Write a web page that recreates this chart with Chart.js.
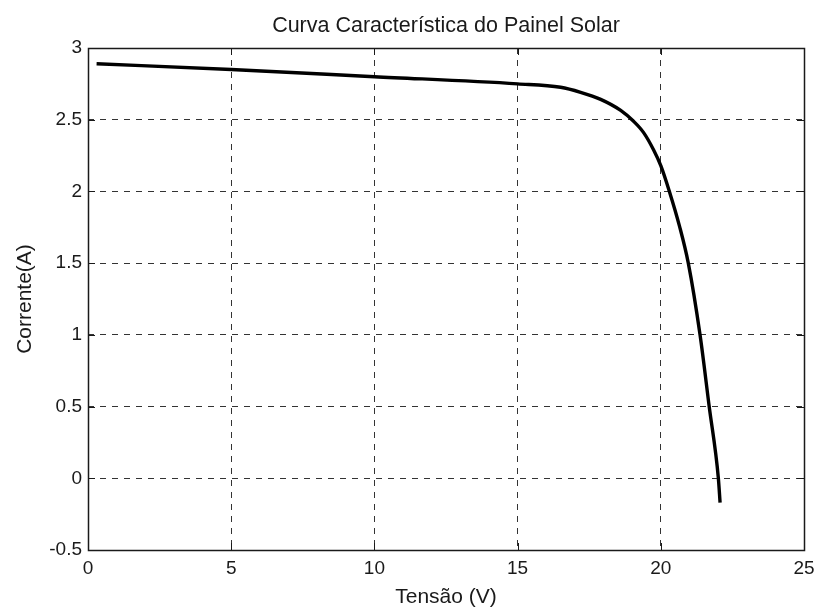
<!DOCTYPE html>
<html>
<head>
<meta charset="utf-8">
<script src="https://cdn.jsdelivr.net/npm/chart.js@4/dist/chart.umd.min.js"></script>
<style>
  html, body { margin: 0; padding: 0; background: #ffffff; }
  #wrap { width: 815px; height: 608px; }
</style>
</head>
<body>
<div id="wrap"><canvas id="c" width="815" height="608"></canvas></div>
<script>
// ---- data ----
const chartTitle = 'Curva Característica do Painel Solar';
const xAxisTitle = 'Tensão (V)';
const yAxisTitle = 'Corrente(A)';

const voltage = [0.3, 5, 10, 15, 16.5, 17.2, 17.9, 18.6, 19.05, 19.4, 19.75, 20.0, 20.3, 20.65, 20.96, 21.37, 21.69, 22.01, 22.07];
const current = [2.89, 2.85, 2.80, 2.75, 2.726, 2.691, 2.642, 2.565, 2.489, 2.41, 2.289, 2.18, 2.0, 1.76, 1.5, 1.0, 0.5, 0.0, -0.17];

const xTicks = [0, 5, 10, 15, 20, 25];
const yTicks = [-0.5, 0, 0.5, 1, 1.5, 2, 2.5, 3];

const points = voltage.map((v, i) => ({ x: v, y: current[i] }));

const FONT = '"Liberation Sans", Arial, Helvetica, sans-serif';

// title centred over the plot area, box around the plot area, inward ticks
const boxPlugin = {
  id: 'boxPlugin',
  afterDraw(chart) {
    const { ctx, chartArea: a, scales } = chart;
    ctx.save();
    ctx.fillStyle = '#1a1a1a';
    ctx.font = '21.5px ' + FONT;
    ctx.textAlign = 'center';
    ctx.textBaseline = 'alphabetic';
    ctx.fillText(chartTitle, (a.left + a.right) / 2, 32);

    ctx.strokeStyle = '#1a1a1a';
    ctx.lineWidth = 1;
    ctx.setLineDash([]);
    const tl = 7;
    ctx.beginPath();
    xTicks.forEach(v => {
      const px = Math.round(scales.x.getPixelForValue(v)) + 0.5;
      ctx.moveTo(px, a.bottom); ctx.lineTo(px, a.bottom - tl);
      ctx.moveTo(px, a.top); ctx.lineTo(px, a.top + tl);
    });
    yTicks.forEach(v => {
      const py = Math.round(scales.y.getPixelForValue(v)) + 0.5;
      ctx.moveTo(a.left, py); ctx.lineTo(a.left + tl, py);
      ctx.moveTo(a.right, py); ctx.lineTo(a.right - tl, py);
    });
    ctx.stroke();
    ctx.lineWidth = 1.5;
    ctx.strokeRect(Math.round(a.left) + 0.5, Math.round(a.top) + 0.5,
                   Math.round(a.right - a.left), Math.round(a.bottom - a.top));
    ctx.restore();
  }
};

const fmt = v => String(v);

new Chart(document.getElementById('c'), {
  type: 'line',
  data: {
    datasets: [{
      data: points,
      borderColor: '#000000',
      borderWidth: 3.4,
      pointRadius: 0,
      cubicInterpolationMode: 'monotone',
      fill: false
    }]
  },
  options: {
    responsive: false,
    animation: false,
    devicePixelRatio: 1,
    layout: { padding: { top: 48, right: 11, bottom: 0, left: 0 } },
    plugins: {
      legend: { display: false },
      tooltip: { enabled: false },
      title: { display: false }
    },
    scales: {
      x: {
        type: 'linear',
        min: 0, max: 25,
        afterFit(s) { s.height = 58; s.paddingLeft = 0; s.paddingRight = 0; },
        afterBuildTicks(s) { s.ticks = xTicks.map(v => ({ value: v })); },
        ticks: {
          color: '#1a1a1a',
          font: { family: FONT, size: 19 },
          padding: 7,
          maxRotation: 0,
          callback: fmt
        },
        grid: {
          color: '#333333',
          lineWidth: 1,
          drawTicks: false
        },
        border: { display: false, dash: [6, 6] },
        title: {
          display: true,
          text: xAxisTitle,
          color: '#1a1a1a',
          font: { family: FONT, size: 21, lineHeight: 1 },
          padding: { top: 0, bottom: 0 }
        }
      },
      y: {
        type: 'linear',
        min: -0.5, max: 3,
        afterFit(s) { s.width = 88; s.paddingTop = 0; s.paddingBottom = 0; },
        afterBuildTicks(s) { s.ticks = yTicks.map(v => ({ value: v })); },
        ticks: {
          color: '#1a1a1a',
          font: { family: FONT, size: 19 },
          padding: 6,
          callback: fmt
        },
        grid: {
          color: '#333333',
          lineWidth: 1,
          drawTicks: false
        },
        border: { display: false, dash: [6, 6] },
        title: {
          display: true,
          text: yAxisTitle,
          color: '#1a1a1a',
          font: { family: FONT, size: 21, lineHeight: 1 },
          padding: { top: 15, bottom: 0 }
        }
      }
    }
  },
  plugins: [boxPlugin]
});
</script>
</body>
</html>
